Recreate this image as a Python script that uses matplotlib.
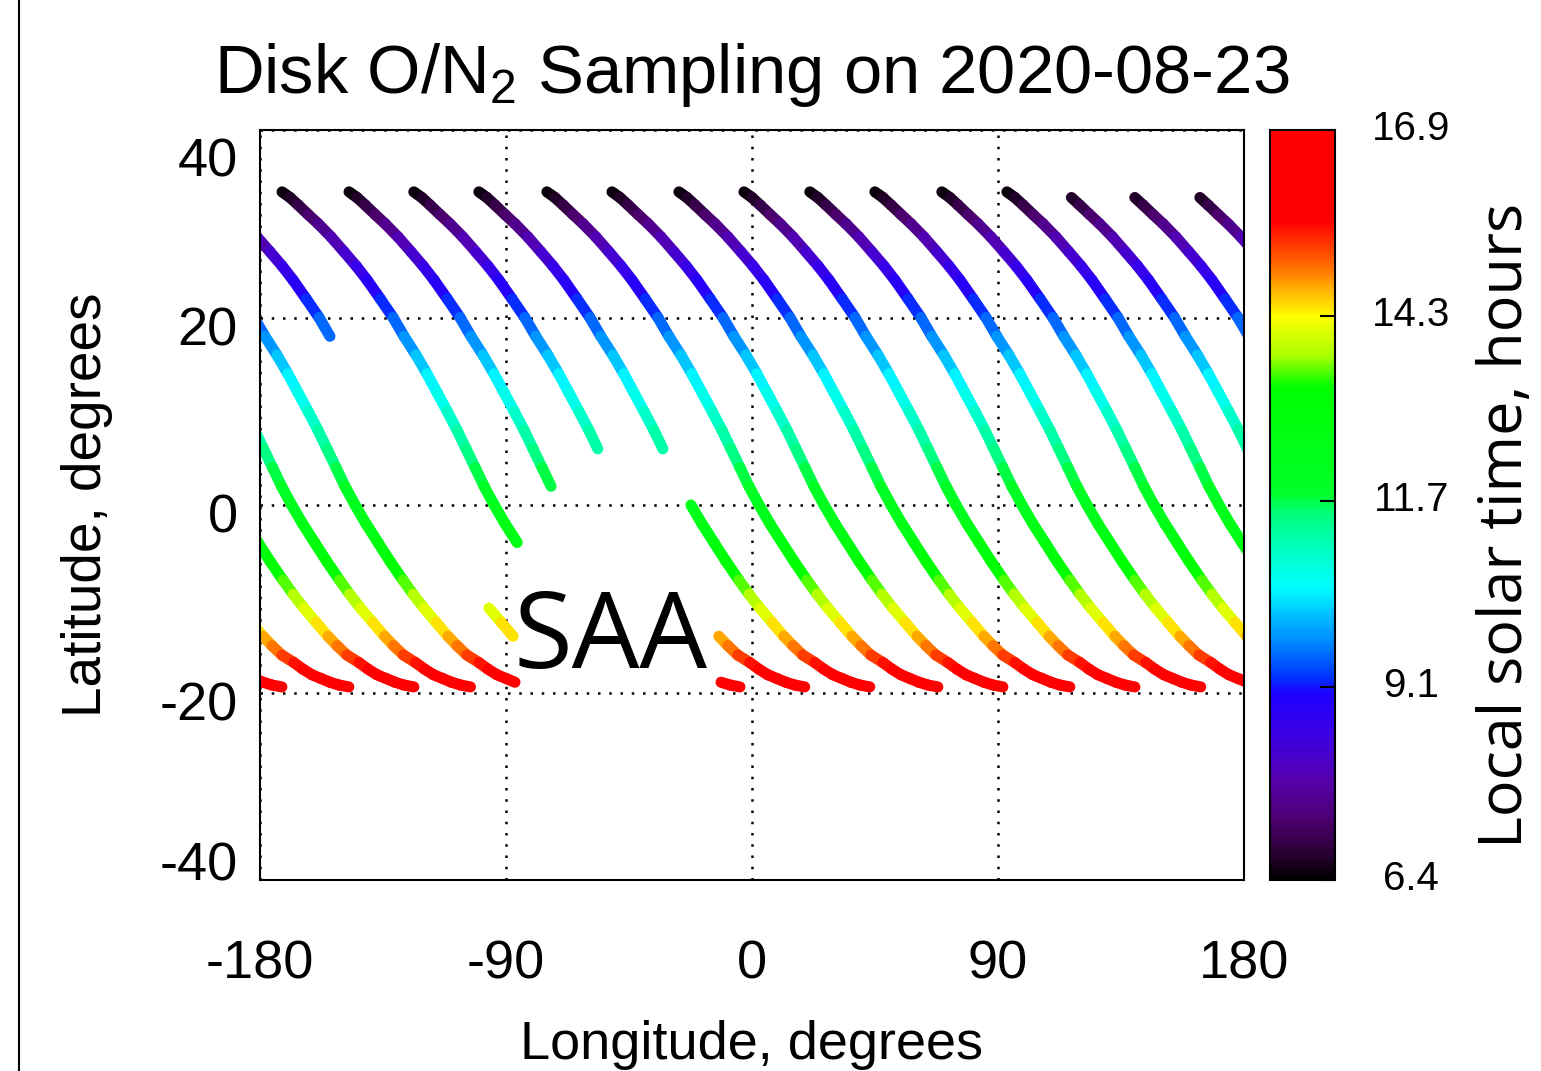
import numpy as np
import matplotlib
matplotlib.use("Agg")
import matplotlib.pyplot as plt
from matplotlib.collections import LineCollection
from matplotlib.colors import LinearSegmentedColormap, Normalize
from matplotlib.transforms import ScaledTranslation
from matplotlib.lines import Line2D
import matplotlib.cm as cm

plt.rcParams["font.family"] = ["Liberation Sans", "DejaVu Sans"]
plt.rcParams["mathtext.default"] = "regular"

# -------------------- datos --------------------
# traza tipo (una órbita): desplazamiento en longitud desde el inicio, latitud, hora local
TRACK_DLON = np.array([0.0, 2.9, 5.9, 9.5, 13.2, 17.9, 22.7, 27.1, 31.1, 35.9,
                       40.6, 44.6, 49.0, 53.0, 56.7, 60.4, 64.0, 67.3, 70.6, 73.9,
                       77.6, 81.6, 86.0, 90.4, 95.1, 98.8, 102.8, 107.2, 111.6, 114.9,
                       118.5, 122.9, 126.2, 129.5, 132.8, 136.1, 139.4, 143.0])
TRACK_LAT = np.array([33.4, 32.8, 32.0, 31.0, 30.0, 28.6, 27.0, 25.5, 24.0, 22.0,
                      20.0, 18.0, 16.0, 14.0, 12.0, 10.0, 8.0, 6.0, 4.0, 2.0,
                      0.0, -2.0, -4.0, -6.0, -8.0, -9.5, -11.0, -12.5, -14.0, -15.0,
                      -16.0, -16.8, -17.5, -18.1, -18.5, -18.9, -19.2, -19.4])
TRACK_LST = np.array([6.40, 6.61, 6.83, 7.10, 7.37, 7.72, 8.06, 8.39, 8.68, 9.03,
                      9.38, 9.68, 10.00, 10.29, 10.56, 10.83, 11.10, 11.34, 11.58, 11.82,
                      12.09, 12.39, 12.71, 13.03, 13.38, 13.65, 13.95, 14.27, 14.59, 14.83,
                      15.10, 15.42, 15.66, 15.91, 16.15, 16.39, 16.63, 16.90])

# longitud de inicio de cada órbita y tramos visibles (índices en la traza tipo)
ORBIT_LON0 = [-171.9, -147.4, -123.7, -99.9, -75.0, -51.2, -26.7, -2.9,
              21.2, 45.0, 69.5, 93.3, 114.0, 137.2, 161.0]
ORBIT_PIECES = [
    [(0, 22)],
    [(0, 19), (35, 37)],
    [(0, 17), (28, 37)],
    [(0, 17), (20, 37)],
    [(0, 37)],
    [(0, 37)],
    [(0, 37)],
    [(0, 37)],
    [(0, 37)],
    [(0, 37)],
    [(0, 37)],
    [(0, 37)],
    [(1, 37)],
    [(1, 35)],
    [(1, 11), (26, 28)],
]

LST_MIN, LST_MAX = 6.4, 16.9
CBAR_TICKS = [6.4, 9.1, 11.7, 14.3, 16.9]
X_TICKS = [-180, -90, 0, 90, 180]
Y_TICKS = [-40, -20, 0, 20, 40]

# paleta (muestreada de la barra de color)
CMAP_POS = [0.0, 0.033, 0.078, 0.13, 0.195, 0.248, 0.274, 0.319, 0.358, 0.39,
            0.437, 0.489, 0.515, 0.658, 0.70, 0.752, 0.814, 0.879, 1.0]
CMAP_RGB = [(0, 0, 0), (40, 0, 50), (75, 0, 110), (85, 0, 170), (60, 0, 230),
            (30, 0, 255), (0, 60, 255), (0, 140, 255), (0, 200, 255), (0, 255, 255),
            (0, 255, 200), (0, 255, 120), (0, 255, 40), (0, 255, 0), (170, 255, 0),
            (255, 255, 0), (255, 120, 0), (255, 0, 0), (255, 0, 0)]

cmap = LinearSegmentedColormap.from_list(
    "lst", [(p, tuple(c / 255 for c in rgb)) for p, rgb in zip(CMAP_POS, CMAP_RGB)])
norm = Normalize(LST_MIN, LST_MAX)

# -------------------- figura --------------------
fig = plt.figure(figsize=(15.41, 10.71), dpi=100)
ax = fig.add_axes([0.1687, 0.1783, 0.6385, 0.7003])
cax = fig.add_axes([0.8241, 0.1783, 0.0422, 0.7003])

for lon0, pieces in zip(ORBIT_LON0, ORBIT_PIECES):
    for i0, i1 in pieces:
        lon = lon0 + TRACK_DLON[i0:i1 + 1]
        lat = TRACK_LAT[i0:i1 + 1]
        lst = TRACK_LST[i0:i1 + 1]
        for shift in (0.0, -360.0):
            pts = np.column_stack([lon + shift, lat])
            segs = np.stack([pts[:-1], pts[1:]], axis=1)
            lc = LineCollection(segs, cmap=cmap, norm=norm, linewidths=8.0,
                                capstyle="round", joinstyle="round", zorder=2)
            lc.set_array(0.5 * (lst[:-1] + lst[1:]))
            ax.add_collection(lc)

ax.set_xlim(-180, 180)
ax.set_ylim(-40, 40)
ax.set_xticks(X_TICKS)
ax.set_yticks(Y_TICKS)
ax.set_xticklabels([str(v) for v in X_TICKS])
ax.set_yticklabels([str(v) for v in Y_TICKS])
ax.tick_params(axis="both", length=0, labelsize=39)
ax.tick_params(axis="x", pad=42.5)
ax.tick_params(axis="y", pad=16)
ax.grid(True, color="black", linestyle=(0, (1, 3.5)), linewidth=1.8)
ax.set_axisbelow(True)
for s in ax.spines.values():
    s.set_linewidth(1.5)

# desplazamientos de las etiquetas de latitud (como en el original)
y_off = {40: -27, 20: -8, 0: -8, -20: -8, -40: 19}
for v, lbl in zip(Y_TICKS, ax.get_yticklabels()):
    lbl.set_transform(lbl.get_transform()
                      + ScaledTranslation(0, y_off[v] / 100, fig.dpi_scale_trans))

ax.set_xlabel("Longitude, degrees", fontsize=39)
ax.set_ylabel("Latitude, degrees", fontsize=39.5)
ax.xaxis.set_label_coords(0.5, -0.186)
ax.yaxis.set_label_coords(-0.149, 0.5)
ax.set_title("Disk O/N$_2$ Sampling on 2020-08-23", fontsize=49.5, pad=27)

ax.text(-87.4, -17.4, "SAA", fontsize=77, family=["Open Sans", "DejaVu Sans"],
        ha="left", va="baseline", color="black", zorder=5)

cb = fig.colorbar(cm.ScalarMappable(norm=norm, cmap=cmap), cax=cax, ticks=CBAR_TICKS)
cb.outline.set_linewidth(1.5)
cax.tick_params(direction="in", length=11, width=1.5, labelsize=29, pad=55)
cax.set_yticklabels([f"{v:.1f}" for v in CBAR_TICKS])
for lbl in cax.get_yticklabels():
    lbl.set_horizontalalignment("center")
    lbl.set_transform(lbl.get_transform()
                      + ScaledTranslation(0, 5 / 100, fig.dpi_scale_trans))

# etiqueta de la barra, pegada al borde derecho
fig.text(0.9575, 0.2082, "Local solar time, hours", rotation=90, rotation_mode="anchor",
         ha="left", va="top", fontsize=44, family=["Open Sans", "DejaVu Sans"])

fig.add_artist(Line2D([18.5 / 1541, 18.5 / 1541], [0, 1], color="black", linewidth=1.5,
                      transform=fig.transFigure))

fig.savefig("out.png", dpi=100, facecolor="white")
